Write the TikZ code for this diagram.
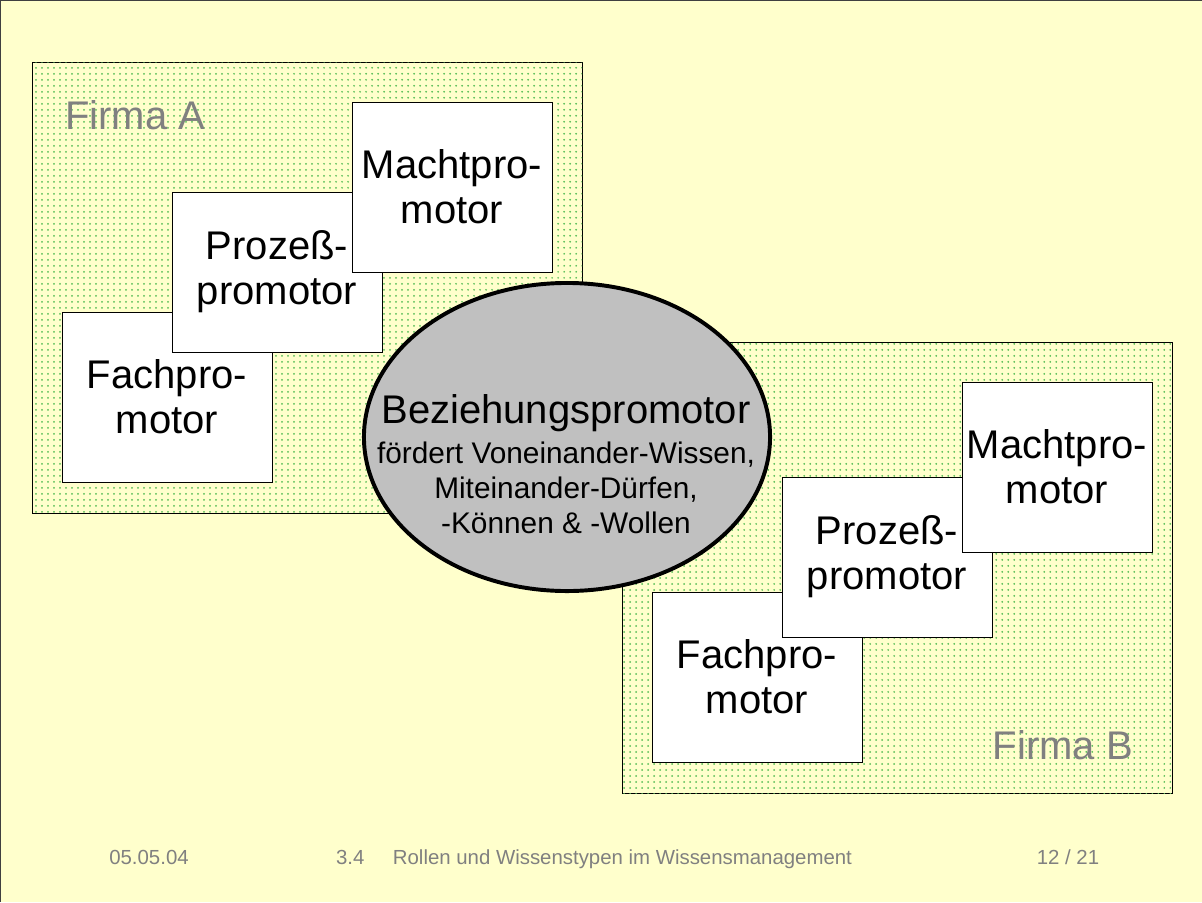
\documentclass[tikz,border=0pt]{standalone}
\usepackage{fontspec}
\setmainfont{Liberation Sans}
\usetikzlibrary{patterns.meta,shapes.geometric}
\definecolor{slidebg}{HTML}{FFFFCC}
\definecolor{dotgreen}{HTML}{55BD55}
\definecolor{labelgray}{HTML}{808080}
\definecolor{ellgray}{HTML}{C0C0C0}
\begin{document}
\begin{tikzpicture}[x=0.025cm,y=-0.025cm,
        firma/.style={draw,line width=0.6pt,fill=slidebg,postaction={pattern={Dots[distance=0.15cm,radius=0.7pt]},pattern color=dotgreen}},
        promo/.style={draw,line width=0.6pt,fill=white,align=center,inner sep=0pt,font=\fontsize{28.45}{32}\selectfont},
        firmalabel/.style={text=labelgray,inner sep=0pt,font=\fontsize{28.45}{32}\selectfont},
        footer/.style={text=labelgray,inner sep=0pt,anchor=base,font=\fontsize{14.5}{17}\selectfont}]
        \useasboundingbox[fill=slidebg] (0,0) rectangle (1202,902);
        \draw[line width=0.8pt,black!75] (0,902) -- (0,0) -- (1202,0);
        \path[firma] (32,62) rectangle (582,513);
        \path[firma] (622,342) rectangle (1172,793);
        \node[firmalabel,anchor=west] (firmaA) at (65,115) {Firma A};
        \node[firmalabel,anchor=east] (firmaB) at (1133,745) {Firma B};
        \node[promo,minimum width=5.25cm,minimum height=4.25cm] (fachA) at (167,397) {Fachpro-\\motor};
        \node[promo,minimum width=5.25cm,minimum height=4cm] (prozA) at (277,272) {Prozeß-\\promotor};
        \node[promo,minimum width=5cm,minimum height=4.25cm] (machtA) at (452,187) {Machtpro-\\motor};
        \node[promo,minimum width=5.25cm,minimum height=4.25cm] (fachB) at (757,677) {Fachpro-\\motor};
        \node[promo,minimum width=5.25cm,minimum height=4cm] (prozB) at (887,557) {Prozeß-\\promotor};
        \node[promo,minimum width=4.75cm,minimum height=4.25cm] (machtB) at (1057,467) {Machtpro-\\motor};
        \node[ellipse,draw,line width=2.8pt,fill=ellgray,minimum width=10.15cm,minimum height=7.7cm,inner sep=0pt] (bez) at (567,437) {};
        \node[align=center,inner sep=0pt,font=\fontsize{21.2}{25}\selectfont] (beztext) at (566,464)
            {\fontsize{28.45}{33}\selectfont Beziehungspromotor\\[3.4pt]
             \fontsize{21.2}{25}\selectfont fördert Voneinander-Wissen,\\Miteinander-Dürfen,\\-Können \& -Wollen};
        \node[footer] (datum) at (149,864) {05.05.04};
        \node[footer] (titel) at (594,864) {3.4\hspace{1.4em}Rollen und Wissenstypen im Wissensmanagement};
        \node[footer] (seite) at (1068,864) {12 / 21};
\end{tikzpicture}
\end{document}
